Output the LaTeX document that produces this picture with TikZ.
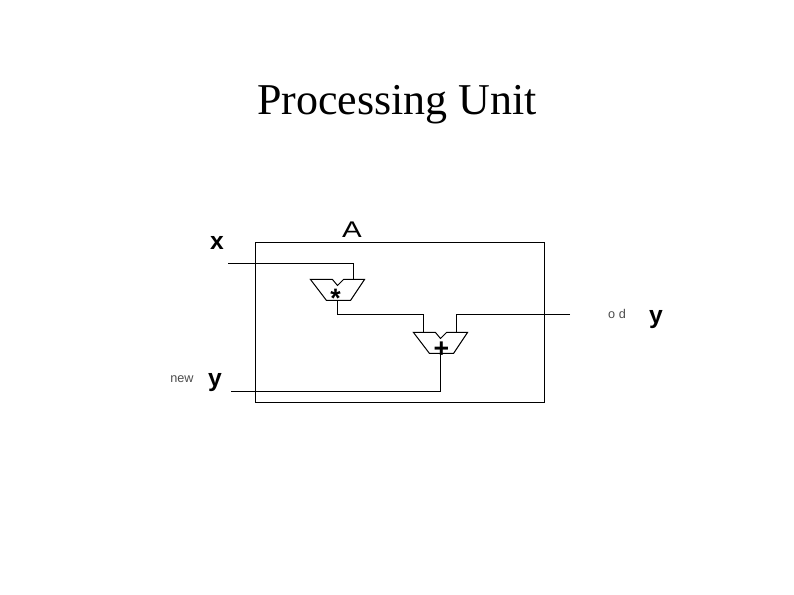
\documentclass[tikz,border=0pt]{standalone}
\usepackage{fontspec}
\setmainfont{Liberation Sans}
\newfontfamily\titlefont{Liberation Serif}
\usetikzlibrary{positioning}

\begin{document}
\begin{tikzpicture}[
  x=0.75pt, y=-0.75pt, line width=0.75pt,
  title/.style={inner sep=0pt, font=\titlefont\fontsize{33}{36}\selectfont},
  varlabel/.style={inner sep=0pt, font=\bfseries\fontsize{18.5}{20}\selectfont},
  unitlabel/.style={inner sep=0pt, xscale=1.3, font=\fontsize{17}{20}\selectfont},
  smalllabel/.style={inner sep=0pt, text=black!70, font=\fontsize{9.5}{11}\selectfont},
  oplabel/.style={inner sep=0pt, font=\bfseries\fontsize{20}{22}\selectfont},
  alu/.pic={
    \draw (-27,0) -- (-5,0) -- (0,6) -- (6,0) -- (27,0) -- (13,21) -- (-11,21) -- cycle;
    \coordinate (-in1) at (-17,0);
    \coordinate (-in2) at (16,0);
    \coordinate (-out) at (0,21);
  }
]
\useasboundingbox (0,0) rectangle (794,595);

% Title and outer unit
\node[title] (title) at (397,104.5) {Processing Unit};
\node[draw, minimum width=216.75pt, minimum height=120pt, inner sep=0pt] (unit) at (400,322.5) {};
\node[unitlabel] (unitname) at (352,229.5) {A};

% Multiplier and adder
\pic (mul) at (337.5,279.5) {alu};
\pic (add) at (440.5,332.5) {alu};
\node[oplabel] (star) at (335.5,298.5) {*};
\node[oplabel] (plus) at (441.5,350) {+};

% Input and output labels
\node[varlabel] (xlabel) at (217,243) {x};
\node[varlabel] (newy) at (215,382.5) {y};
\node[smalllabel] (newlabel) at (182,379.5) {new};
\node[smalllabel] (oldlabel) at (617,314) {o d};
\node[varlabel] (oldy) at (656,319.5) {y};

% Free ends of the wires
\coordinate (xend) at (228,263.5);
\coordinate (newend) at (231,391.5);
\coordinate (oldend) at (570,314.5);

% Wires
\draw (xend) -| (mul-in2);
\draw (mul-out) -- ++(0,14) -| (add-in1);
\draw (oldend) -| (add-in2);
\draw (add-out) |- (newend);
\end{tikzpicture}
\end{document}
